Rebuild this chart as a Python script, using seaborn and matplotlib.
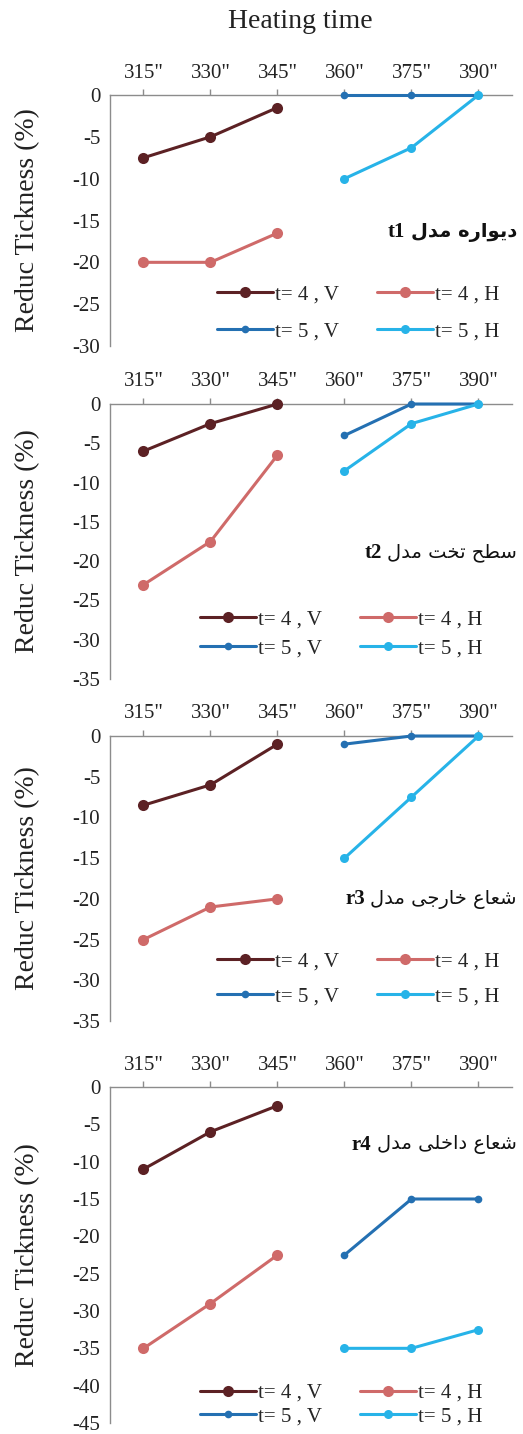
import matplotlib
matplotlib.use('Agg')
import matplotlib.pyplot as plt
import seaborn as sns

sns.set_style('white')
plt.rcParams['font.family'] = ['Liberation Serif', 'DejaVu Sans']
plt.rcParams['axes.unicode_minus'] = False

# x values (seconds) and labels
times_4 = [315, 330, 345]
times_5 = [360, 375, 390]
tick_labels = ['315"', '330"', '345"', '360"', '375"', '390"']
series_names = ['t= 4 , V', 't= 4 , H', 't= 5 , V', 't= 5 , H']
colors = ['#5c2124', '#cf6a69', '#2470b2', '#27b3e8']

# panel t1
t1_4V = [-7.5, -5, -1.5]
t1_4H = [-20, -20, -16.5]
t1_5V = [0, 0, 0]
t1_5H = [-10, -6.3, 0]
# panel t2
t2_4V = [-6, -2.5, 0]
t2_4H = [-23, -17.5, -6.5]
t2_5V = [-4, 0, 0]
t2_5H = [-8.5, -2.5, 0]
# panel r3
r3_4V = [-8.5, -6, -1]
r3_4H = [-25, -21, -20]
r3_5V = [-1, 0, 0]
r3_5H = [-15, -7.5, 0]
# panel r4
r4_4V = [-11, -6, -2.5]
r4_4H = [-35, -29, -22.5]
r4_5V = [-22.5, -15, -15]
r4_5H = [-35, -35, -32.5]

y_mins = [-30, -35, -35, -45]

# Persian words, written in display order with contextual glyph forms
w_model = '\ufedd\ufeaa\ufee3'                    # مدل
w_wall = '\ufee9\ufead\ufe8d\ufeee\ufbfe\ufea9'   # دیواره
w_flat = '\ufe96\ufea8\ufe97'                     # تخت
w_surface = '\ufea2\ufec4\ufeb3'                  # سطح
w_radius = '\ufec9\ufe8e\ufecc\ufeb7'             # شعاع
w_outer = '\ufbfd\ufe9f\ufead\ufe8e\ufea7'        # خارجی
w_inner = '\ufbfd\ufee0\ufea7\ufe8d\ufea9'        # داخلی
notes_fa = [w_model + ' ' + w_wall,
            w_model + ' ' + w_flat + ' ' + w_surface,
            w_model + ' ' + w_outer + ' ' + w_radius,
            w_model + ' ' + w_inner + ' ' + w_radius]
notes_en = ['t1', 't2', 'r3', 'r4']

W, H = 523, 1434
fig = plt.figure(figsize=(W / 100, H / 100), dpi=100)

# pixel layout of each panel: top, bottom, note y, legend centre y, row spacing, legend x
panels = [
    (95, 346, 232, 313, 0.85, 217),
    (404, 679, 553, 634, 0.45, 200),
    (736, 1021, 899, 979, 0.75, 217),
    (1087, 1423, 1145, 1405, 0.2, 200),
]
data = [
    [t1_4V, t1_4H, t1_5V, t1_5H],
    [t2_4V, t2_4H, t2_5V, t2_5H],
    [r3_4V, r3_4H, r3_5V, r3_5H],
    [r4_4V, r4_4H, r4_5V, r4_5H],
]
left, right = 110, 512
grey = '#8c8c8c'

for i, (top, bot, note_y, leg_y, lspace, leg_x) in enumerate(panels):
    ax = fig.add_axes([left / W, 1 - bot / H, (right - left) / W, (bot - top) / H])
    handles = []
    for j, (name, ys) in enumerate(zip(series_names, data[i])):
        xs = times_4 if j < 2 else times_5
        ms = 8 if j < 2 else (6.5 if j == 3 else 5.5)
        sns.lineplot(x=xs, y=ys, ax=ax, color=colors[j], marker='o',
                     markersize=ms, markeredgewidth=0, linewidth=2.2,
                     legend=False, clip_on=False, zorder=3)
        line = ax.lines[-1]
        line.set_label(name)
        handles.append(line)

    ax.set_xlim(307.5, 397.5)
    ax.set_ylim(y_mins[i], 0)
    ax.set_xticks(times_4 + times_5, tick_labels)
    ax.set_yticks(range(y_mins[i], 1, 5))
    ax.xaxis.tick_top()
    ax.spines['right'].set_visible(False)
    ax.spines['bottom'].set_visible(False)
    for s in ['top', 'left']:
        ax.spines[s].set_color(grey)
        ax.spines[s].set_linewidth(1)
    ax.tick_params(axis='both', direction='out', length=4, width=1,
                   color=grey, labelsize=15, labelcolor='#222222')
    ax.tick_params(axis='x', pad=5)
    ax.tick_params(axis='y', pad=3)
    ax.set_ylabel('Reduc Tickness (%)', fontsize=20, color='#222222')
    ax.yaxis.set_label_coords(-0.175, 0.5)

    # model note, Persian on the right and the bold code to its left
    fa = fig.text(517 / W, 1 - note_y / H, notes_fa[i], ha='right', va='center',
                  fontsize=14, family='DejaVu Sans',
                  fontweight='bold' if i == 0 else 'normal', color='#111111')
    ax.annotate(notes_en[i], xy=(0, 0.5), xycoords=fa, xytext=(-4, 0),
                textcoords='offset points', ha='right', va='center',
                fontsize=15, fontweight='bold', color='#111111')

    # matplotlib fills legend columns first, so order as 4V, 5V | 4H, 5H
    order = [0, 2, 1, 3]
    ax.legend(handles=[handles[k] for k in order], ncol=2, loc='center left',
              bbox_to_anchor=(leg_x / W, 1 - leg_y / H),
              bbox_transform=fig.transFigure, frameon=False, fontsize=15,
              handlelength=2.7, handletextpad=0.1, columnspacing=1.8,
              labelspacing=lspace, borderpad=0, borderaxespad=0)

fig.text(300 / W, 1 - 22 / H, 'Heating time', ha='center', va='center',
         fontsize=20, color='#222222')

fig.savefig('out.png', dpi=100, facecolor='white')
